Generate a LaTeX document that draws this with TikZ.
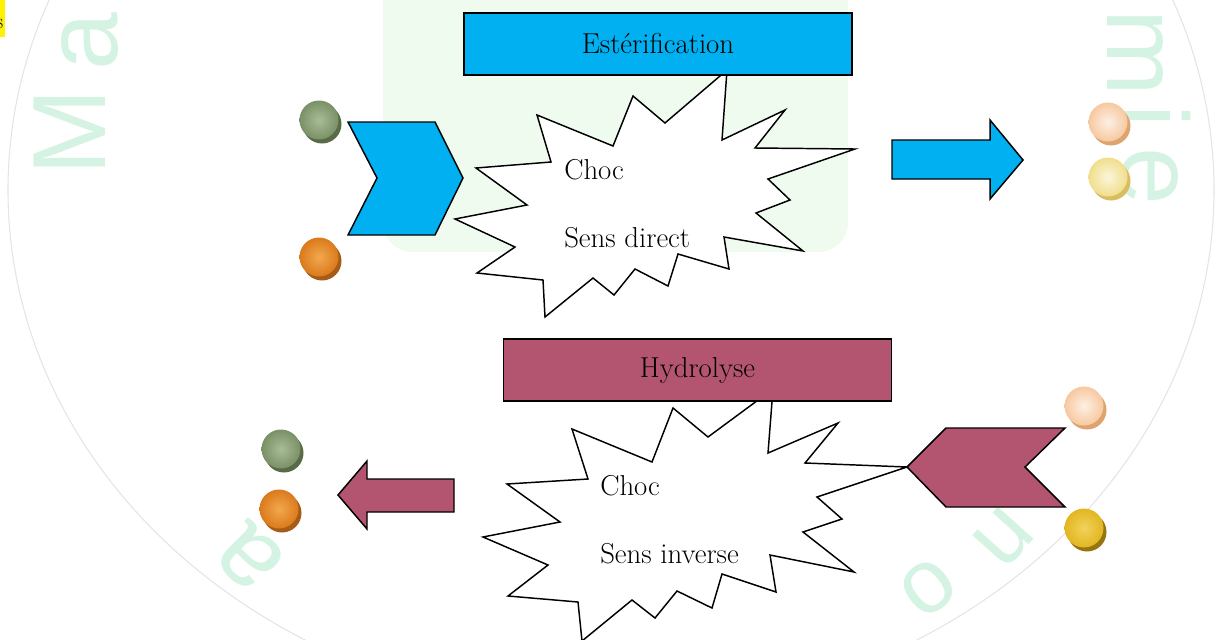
\documentclass[tikz,border=0pt]{standalone}
\usepackage{fontspec}
\newfontfamily\wmfont{Liberation Sans}
\usetikzlibrary{calc}
% fills
\definecolor{estblue}{RGB}{0,176,240}
\definecolor{hydrose}{RGB}{179,84,112}
% faint background mark
\definecolor{wmgreen}{RGB}{212,243,226}
\definecolor{wmpale}{RGB}{239,251,239}
\definecolor{ringgray}{RGB}{228,228,228}
% molecule discs: shadow, rim, centre
\definecolor{grnS}{RGB}{88,106,70}\definecolor{grnO}{RGB}{122,144,102}\definecolor{grnI}{RGB}{168,188,150}
\definecolor{orgS}{RGB}{165,92,22}\definecolor{orgO}{RGB}{218,122,28}\definecolor{orgI}{RGB}{243,168,78}
\definecolor{pchS}{RGB}{222,164,112}\definecolor{pchO}{RGB}{247,200,160}\definecolor{pchI}{RGB}{253,240,228}
\definecolor{ylwS}{RGB}{218,188,98}\definecolor{ylwO}{RGB}{241,222,140}\definecolor{ylwI}{RGB}{251,246,218}
\definecolor{gldS}{RGB}{150,116,18}\definecolor{gldO}{RGB}{226,182,34}\definecolor{gldI}{RGB}{242,210,90}

% a disc with its offset shadow: name, centre, shadow, rim colour, centre colour
\newcommand{\discball}[5]{%
  \fill[#3] ($(#2)+(3,4)$) circle (19.5);
  \node[disc, outer color=#4, inner color=#5] (#1) at (#2) {};
}

\begin{document}
\begin{tikzpicture}[x=0.75pt,y=-0.75pt,
  outline/.style={draw=black, line width=1.1pt, line join=miter},
  titlebox/.style={outline, minimum width=291pt, minimum height=46.5pt,
    inner sep=0pt, font=\fontsize{21.6}{26}\selectfont},
  caption/.style={anchor=base west, inner sep=0pt, font=\fontsize{21.6}{26}\selectfont},
  burst/.style={outline, fill=white},
  disc/.style={circle, inner sep=0pt, minimum size=29.25pt, shading=radial},
  wm/.style={text=wmgreen, font=\wmfont\fontsize{78}{78}\selectfont, inner sep=0pt},
  wmsmall/.style={wm, font=\wmfont\fontsize{68}{68}\selectfont},
]
\useasboundingbox (0,0) rectangle (1219,639);

% ---- faint background mark ----
\fill[wmpale, rounded corners=22pt] (383,-30) rectangle (848,252);
\draw[ringgray, line width=0.8pt] (611,190) ellipse (603 and 522);
\node[wm, rotate=90]   (wmA)  at (90,42)   {a};
\node[wm, rotate=90]   (wmM)  at (70,132)  {M};
\node[wm, rotate=-90]  (wmm)  at (1135,53) {m};
\node[wm, rotate=-90]  (wmi)  at (1153,116){i};
\node[wm, rotate=-90]  (wme)  at (1150,176){e};
\node[wm, rotate=135]  (wmab) at (250,557) {a};
\node[wmsmall, rotate=-132] (wmn)  at (1004,538){n};
\node[wmsmall, rotate=-142] (wmo)  at (928,588) {o};

% ---- corner marker ----
\fill[yellow] (0,0) rectangle (4.5,37);
\begin{scope}
  \clip (0,0) rectangle (4.5,37);
  \node[anchor=base east, inner sep=0pt, text=black!75!blue,
        font=\fontsize{16}{16}\selectfont] (corner) at (3.5,28) {s};
\end{scope}

% ---- collision bursts ----
\draw[burst] (727,70) -- (722,140) -- (785,110) -- (755,148) -- (855,149)
  -- (768,179) -- (790,200) -- (756,213) -- (803,251) -- (724,237)
  -- (729,269) -- (678,254) -- (668,286) -- (635,269) -- (614,295)
  -- (593,278) -- (545,317) -- (543,280) -- (477,273) -- (515,247)
  -- (455,219) -- (527,205) -- (476,168) -- (551,162) -- (537,115)
  -- (613,146) -- (633,96) -- (665,123) -- cycle;

\coordinate (hyTip) at (907,467);
\draw[burst] (773,389) -- (768,453) -- (838,423) -- (805,463) -- (hyTip)
  -- (817,497) -- (842,519) -- (803,532) -- (854,572) -- (770,555)
  -- (776,592) -- (722,574) -- (712,608) -- (677,591) -- (655,618)
  -- (632,600) -- (582,641) -- (578,602) -- (508,596) -- (548,565)
  -- (483,537) -- (560,522) -- (507,484) -- (588,479) -- (572,429)
  -- (652,462) -- (673,408) -- (708,437) -- cycle;

\node[caption] (choc1) at (564,179) {Choc};
\node[caption] (sens1) at (564,247) {Sens direct};
\node[caption] (choc2) at (600,495) {Choc};
\node[caption] (sens2) at (600,563) {Sens inverse};

% ---- reaction titles ----
\node[titlebox, fill=estblue] (esterif) at (658,44) {Estérification};
\node[titlebox, fill=hydrose] (hydro) at (697.5,370) {Hydrolyse};

% ---- chevrons and block arrows ----
\draw[outline, fill=estblue] (348,122) -- (435,122) -- (463,178) -- (435,235)
  -- (348,235) -- (377,178) -- cycle;
\draw[outline, fill=estblue] (892,140) -- (990,140) -- (990,120) -- (1023,160)
  -- (990,199) -- (990,179) -- (892,179) -- cycle;
\draw[outline, fill=hydrose] (hyTip) -- (946,428) -- (1065,428) -- (1025,467)
  -- (1065,507) -- (946,507) -- cycle;
\draw[outline, fill=hydrose] (454,479) -- (367,479) -- (367,461) -- (338,495)
  -- (367,529) -- (367,512) -- (454,512) -- cycle;

% ---- molecules ----
\discball{acid1}{319,120}{grnS}{grnO}{grnI}
\discball{alco1}{319,257}{orgS}{orgO}{orgI}
\discball{ester1}{1108,122}{pchS}{pchO}{pchI}
\discball{water1}{1108,177}{ylwS}{ylwO}{ylwI}
\discball{ester2}{1084,406}{pchS}{pchO}{pchI}
\discball{water2}{1084,528}{gldS}{gldO}{gldI}
\discball{acid2}{281,449}{grnS}{grnO}{grnI}
\discball{alco2}{279,509}{orgS}{orgO}{orgI}
\end{tikzpicture}
\end{document}
